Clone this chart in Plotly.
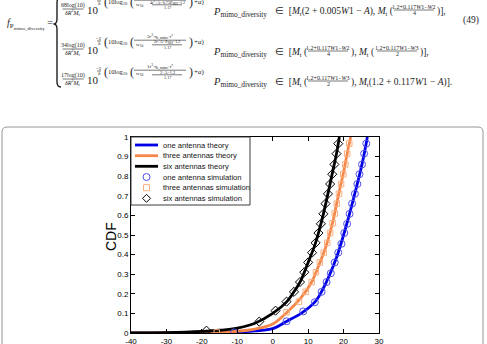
import plotly.graph_objects as go

# ---------------- data ----------------
x_ticks = [-40, -30, -20, -10, 0, 10, 20, 30]
x_tick_labels = ["-40", "-30", "-20", "-10", "0", "10", "20", "30"]
y_ticks = [0, 0.1, 0.2, 0.3, 0.4, 0.5, 0.6, 0.7, 0.8, 0.9, 1]
y_tick_labels = ["0", "0.1", "0.2", "0.3", "0.4", "0.5", "0.6", "0.7", "0.8", "0.9", "1"]

one_theory_x = [-40, -30, -20, -15, -10, -5, 0, 4, 8, 12, 15, 18, 20, 22, 24, 25, 26, 26.7]
one_theory_y = [0, 0.0005, 0.002, 0.003, 0.005, 0.011, 0.022, 0.06, 0.10, 0.16, 0.255, 0.385,
                0.50, 0.63, 0.77, 0.845, 0.93, 1.0]
three_theory_x = [-40, -30, -20, -15, -10, -5, 0, 4, 8, 11, 13, 15, 17, 18, 19, 20, 21, 22]
three_theory_y = [0, 0.001, 0.003, 0.005, 0.009, 0.02, 0.046, 0.105, 0.18, 0.26, 0.345, 0.44,
                  0.57, 0.655, 0.74, 0.82, 0.915, 1.0]
six_theory_x = [-40, -30, -20, -15, -10, -5, 0, 4, 6, 8, 10, 12, 14, 16, 17, 18, 18.8]
six_theory_y = [0, 0.002, 0.008, 0.014, 0.025, 0.05, 0.1, 0.16, 0.21, 0.27, 0.36, 0.455,
                0.585, 0.745, 0.83, 0.915, 1.0]

one_sim_x = [-10.9, 3.9, 8.6, 11.9, 13.8, 15.2, 16.4, 17.5, 18.5, 19.4, 20.2, 21.0, 21.7,
             22.4, 23.2, 23.9, 24.5, 25.2, 25.8, 26.4]
one_sim_y = [0.003, 0.06, 0.11, 0.157, 0.21, 0.26, 0.305, 0.36, 0.41, 0.455, 0.51, 0.557,
             0.608, 0.66, 0.71, 0.76, 0.81, 0.86, 0.915, 0.966]
three_sim_x = [-15.8, 3.9, 7.4, 9.3, 11.0, 12.2, 13.3, 14.4, 15.4, 16.2, 16.9, 17.5, 18.1,
               18.7, 19.3, 19.9, 20.5, 21.0, 21.6]
three_sim_y = [0.003, 0.106, 0.16, 0.21, 0.26, 0.31, 0.36, 0.41, 0.46, 0.51, 0.56, 0.61,
               0.66, 0.71, 0.76, 0.81, 0.86, 0.915, 0.966]
six_sim_x = [-18.7, -3.8, 0.8, 3.9, 6.0, 7.7, 8.9, 10.0, 11.1, 12.1, 12.9, 13.6, 14.3, 14.9,
             15.6, 16.2, 16.8, 17.4, 18.0, 18.5]
six_sim_y = [0.012, 0.058, 0.114, 0.16, 0.21, 0.26, 0.31, 0.36, 0.41, 0.46, 0.51, 0.557,
             0.608, 0.66, 0.71, 0.76, 0.81, 0.86, 0.915, 0.966]

legend_labels = ["one antenna theory", "three antennas theory", "six antennas theory",
                 "one antenna simulation", "three antennas simulation", "six antennas simulation"]

BLUE = "rgb(0,0,230)"
ORANGE = "rgb(245,135,75)"
BLACK = "rgb(0,0,0)"
BLUE_M = "rgb(80,80,235)"
ORANGE_M = "rgb(250,175,125)"

# ---------------- layout geometry (pixels) ----------------
W, H = 487, 344
L, R, T, B = 131, 379, 137, 333


def px(x):
    return (x - L) / (R - L)


def py(y):
    return (B - y) / (B - T)


fig = go.Figure()
line_w = 2.8
fig.add_trace(go.Scatter(x=one_theory_x, y=one_theory_y, mode="lines", line=dict(color=BLUE, width=line_w, shape="spline"), name=legend_labels[0]))
fig.add_trace(go.Scatter(x=three_theory_x, y=three_theory_y, mode="lines", line=dict(color=ORANGE, width=line_w, shape="spline"), name=legend_labels[1]))
fig.add_trace(go.Scatter(x=six_theory_x, y=six_theory_y, mode="lines", line=dict(color=BLACK, width=line_w, shape="spline"), name=legend_labels[2]))
fig.add_trace(go.Scatter(x=one_sim_x, y=one_sim_y, mode="markers", marker=dict(symbol="circle-open", size=7, color=BLUE_M, line=dict(width=1)), name=legend_labels[3]))
fig.add_trace(go.Scatter(x=three_sim_x, y=three_sim_y, mode="markers", marker=dict(symbol="square-open", size=5.5, color=ORANGE_M, line=dict(width=1)), name=legend_labels[4]))
fig.add_trace(go.Scatter(x=six_sim_x, y=six_sim_y, mode="markers", marker=dict(symbol="diamond-open", size=7, color=BLACK, line=dict(width=1)), name=legend_labels[5]))

shapes = []
annotations = []

# rounded outer box
bx0, bx1, by0, by1, r = 2, 483, 127, 360, 5
path = (f"M {px(bx0)},{py(by1)} L {px(bx0)},{py(by0 + r)} Q {px(bx0)},{py(by0)} {px(bx0 + r)},{py(by0)} "
        f"L {px(bx1 - r)},{py(by0)} Q {px(bx1)},{py(by0)} {px(bx1)},{py(by0 + r)} L {px(bx1)},{py(by1)}")
shapes.append(dict(type="path", xref="paper", yref="paper", path=path, line=dict(color="rgb(150,150,150)", width=1)))

# manual legend
lg_x0, lg_x1, lg_y0, lg_y1 = 131, 250, 137, 205
shapes.append(dict(type="rect", xref="paper", yref="paper", x0=px(lg_x0), x1=px(lg_x1), y0=py(lg_y1), y1=py(lg_y0),
                   line=dict(color="rgb(60,60,60)", width=1), fillcolor="white", layer="above"))
rows = [145, 155.7, 166.3, 177, 187.7, 198.3]
line_cols = [BLUE, ORANGE, BLACK]
for i in range(3):
    shapes.append(dict(type="line", xref="paper", yref="paper", x0=px(135), x1=px(158), y0=py(rows[i]), y1=py(rows[i]),
                       line=dict(color=line_cols[i], width=2.8), layer="above"))
cx = 146.5
shapes.append(dict(type="circle", xref="paper", yref="paper", x0=px(cx - 3.5), x1=px(cx + 3.5), y0=py(rows[3] + 3.5), y1=py(rows[3] - 3.5),
                   line=dict(color=BLUE_M, width=1), layer="above"))
shapes.append(dict(type="rect", xref="paper", yref="paper", x0=px(cx - 3), x1=px(cx + 3), y0=py(rows[4] + 3), y1=py(rows[4] - 3),
                   line=dict(color=ORANGE_M, width=1), layer="above"))
d = 4
shapes.append(dict(type="path", xref="paper", yref="paper",
                   path=f"M {px(cx)},{py(rows[5]-d)} L {px(cx+d)},{py(rows[5])} L {px(cx)},{py(rows[5]+d)} L {px(cx-d)},{py(rows[5])} Z",
                   line=dict(color=BLACK, width=1), layer="above"))
for i, lab in enumerate(legend_labels):
    annotations.append(dict(text=lab, xref="paper", yref="paper", x=px(160.5), y=py(rows[i]), xanchor="left", yanchor="middle",
                            showarrow=False, font=dict(family="Liberation Sans", size=7.6, color="rgb(20,20,20)")))

# y axis title
annotations.append(dict(text="CDF", xref="paper", yref="paper", x=px(111), y=py(237), textangle=-90, showarrow=False,
                        xanchor="center", yanchor="middle", font=dict(family="Liberation Sans", size=14, color="black")))

# ---------------- equation (text) ----------------
SERIF = "Liberation Serif"
EQC = "rgb(30,30,30)"


def eq(text, x, y, size=8, anchor="left"):
    annotations.append(dict(text=text, xref="paper", yref="paper", x=px(x), y=py(y), xanchor=anchor, yanchor="middle",
                            showarrow=False, font=dict(family=SERIF, size=size, color=EQC)))


def hline(x0, x1, y):
    shapes.append(dict(type="line", xref="paper", yref="paper", x0=px(x0), x1=px(x1), y0=py(y), y1=py(y),
                       line=dict(color=EQC, width=0.6)))


def frac(num, den, xc, yc, size=5.5, w=20, gap=3.3):
    eq(num, xc, yc - gap, size, "center")
    eq(den, xc, yc + gap, size, "center")
    hline(xc - w / 2, xc + w / 2, yc)


eq("<i>f</i><sub>P<sub>mimo_diversity</sub></sub> =", 5, 24, 10)
brace = (f"M {px(61)},{py(-3)} Q {px(57)},{py(-3)} {px(57)},{py(3)} L {px(57)},{py(19)} Q {px(57)},{py(24)} {px(53.5)},{py(24)} "
         f"Q {px(57)},{py(24)} {px(57)},{py(29)} L {px(57)},{py(82)} Q {px(57)},{py(87)} {px(61)},{py(87)}")
shapes.append(dict(type="path", xref="paper", yref="paper", path=brace, line=dict(color=EQC, width=1.4)))
eq("(49)", 461, 20, 9.5)

coefs = ["68log(10)", "34log(10)", "17log(10)"]
line_y = [9, 49, 79]
inner_nums = ["4r<sup>2</sup>+A−0.75P<sub>SBS</sub>−1.2", "2r+A−P<sub>SBS</sub>−1.2", "2+A−1.2"]
top_nums = ["r<sup>2</sup>·η<sub>t_mimo</sub>·r<sup>c</sup>", "3r<sup>3</sup>·η<sub>t_mimo</sub>·r<sup>c</sup>", "1r<sup>3</sup>·η<sub>t_mimo</sub>·r<sup>c</sup>"]
for k in range(3):
    yc = line_y[k]
    frac(coefs[k], "<i>δR</i><sup>2</sup><i>M</i><sub>t</sub>", 73, yc, 6, 21, 3.6)
    eq("10", 85, yc + 1, 11)
    ye = yc - 7
    frac("−2", "δ", 99, ye - 1, 5, 4, 2.8)
    eq("(", 102, ye, 12)
    eq("10log<sub>10</sub>", 106, ye, 6.5)
    eq("(", 128, ye, 12)
    eq(top_nums[k], 160, ye - 5.5, 5, "center")
    hline(134, 186, ye - 1.8)
    eq("w<sub>10</sub>", 134, ye + 2.5, 5)
    frac(inner_nums[k], "1.17", 167, ye + 2.8, 4.2, 30, 2.4)
    eq(")", 187, ye, 12)
    eq("+<i>a</i>)", 192, ye, 7)
    eq("<i>P</i><sub>mimo_diversity</sub>", 211, yc + 3, 10.5)

# bracket texts
eq("∈  [<i>M</i><sub>t</sub>(2 + 0.005<i>W</i>1 − <i>A</i>), <i>M</i><sub>t</sub> (", 273, 11, 9.5)
frac("1.2+0.117<i>W</i>1−<i>W</i>2", "4", 414, 10, 6, 40)
eq(")],", 435, 11, 9.5)

eq("∈  [<i>M</i><sub>t</sub> (", 273, 52, 9.5)
frac("1.2+0.117<i>W</i>1−<i>W</i>2", "4", 328, 51, 6, 40)
eq("), <i>M</i><sub>t</sub> (", 349, 52, 9.5)
frac("1.2+0.117<i>W</i>1−<i>W</i>3", "2", 397, 51, 6, 40)
eq(")],", 418, 52, 9.5)

eq("∈  [<i>M</i><sub>t</sub> (", 273, 82, 9.5)
frac("1.2+0.117<i>W</i>1−<i>W</i>3", "2", 328, 81, 6, 40)
eq("), <i>M</i><sub>t</sub>(1.2 + 0.117<i>W</i>1 − <i>A</i>)].", 349, 82, 9.5)

axis_common = dict(showline=True, linecolor="black", linewidth=1, mirror="ticks", ticks="inside", ticklen=4,
                   tickcolor="black", tickwidth=0.8, showgrid=False, zeroline=False, automargin=False,
                   tickfont=dict(family="Liberation Sans", size=8, color="black"))
fig.update_layout(
    width=W, height=H, autosize=False,
    margin=dict(l=L, r=W - R, t=T, b=H - B, pad=0, autoexpand=False),
    paper_bgcolor="white", plot_bgcolor="white",
    showlegend=False,
    xaxis=dict(range=[-40, 30], tickvals=x_ticks, ticktext=x_tick_labels, **axis_common),
    yaxis=dict(range=[0, 1], tickvals=y_ticks, ticktext=y_tick_labels, **axis_common),
    shapes=shapes, annotations=annotations,
)
fig.write_html("out.html")
